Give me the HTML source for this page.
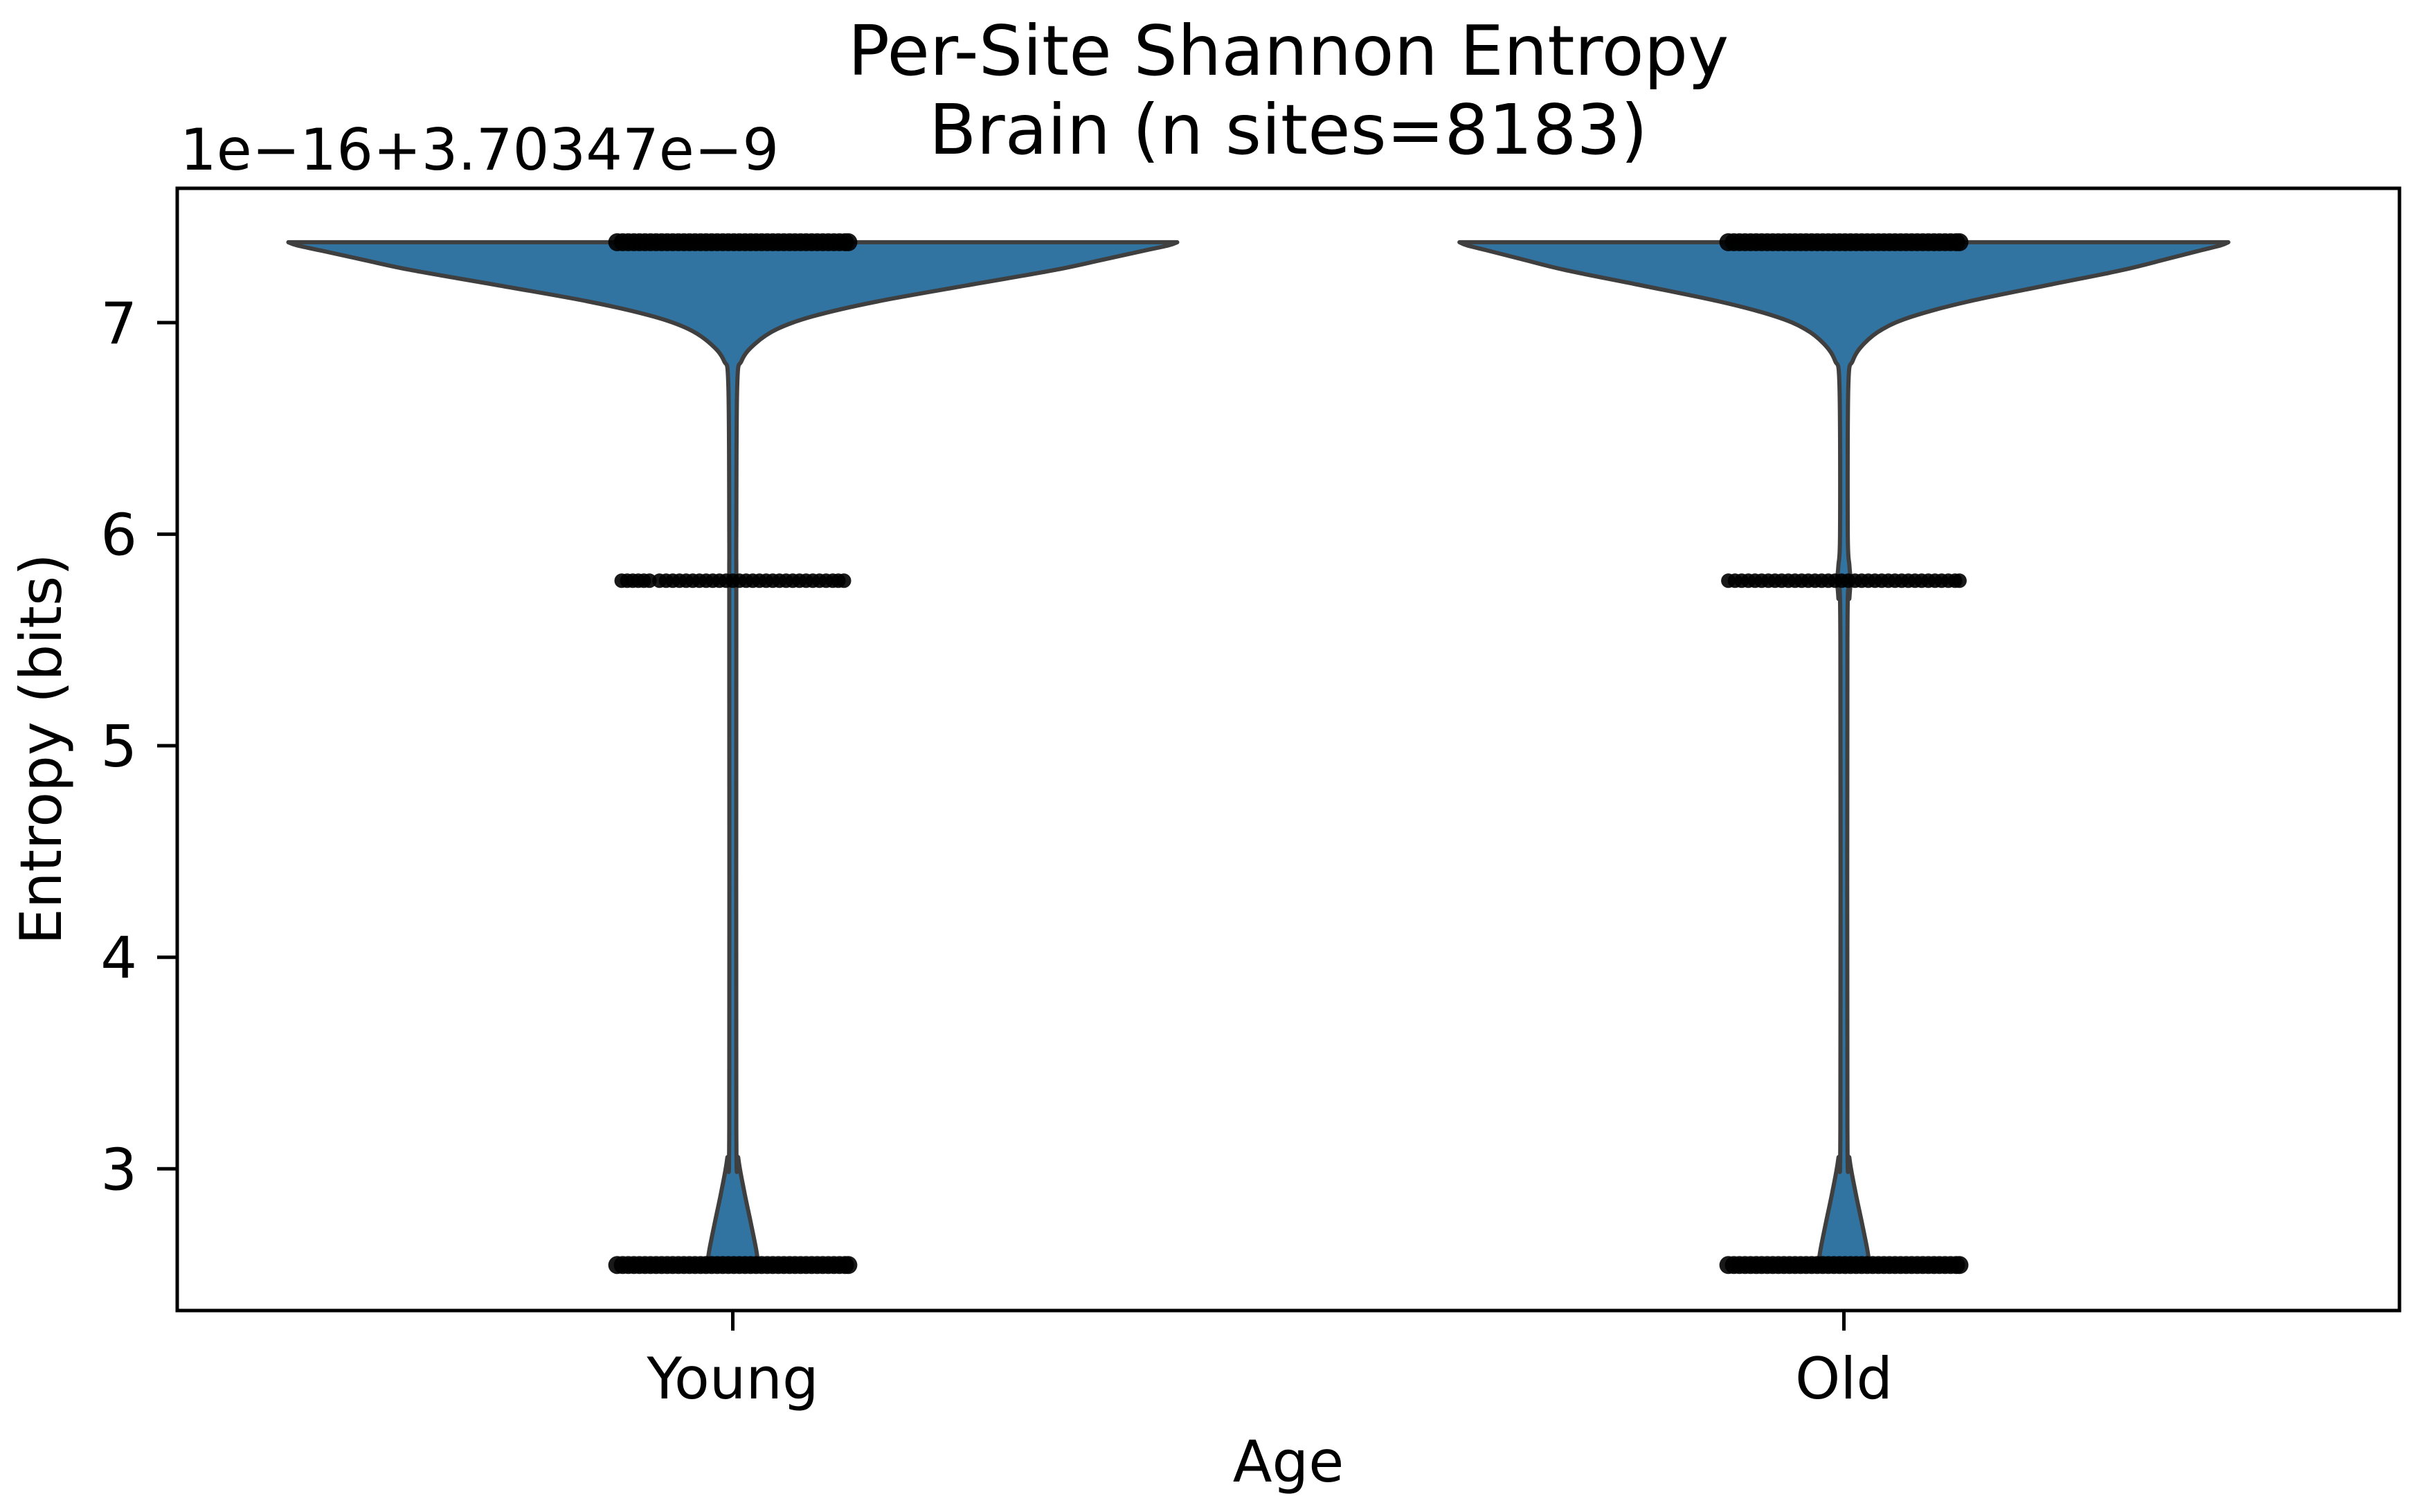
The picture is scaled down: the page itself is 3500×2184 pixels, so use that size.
<!DOCTYPE html>
<html><head><meta charset="utf-8"><style>
html,body{margin:0;padding:0;background:#fff}
svg{display:block}
text{font-family:"DejaVu Sans","Liberation Sans",sans-serif;fill:#000}
</style></head><body>
<svg id="chart" width="3500" height="2184" viewBox="0 0 3500 2184" xmlns="http://www.w3.org/2000/svg">
<rect x="0" y="0" width="3500" height="2184" fill="#fff"/>
<text x="1861" y="108" font-size="100" text-anchor="middle">Per-Site Shannon Entropy</text>
<text x="1861" y="222" font-size="100" text-anchor="middle">Brain (n sites=8183)</text>
<text x="260" y="245" font-size="83">1e−16+3.70347e−9</text>
<g id="plot"></g>
<g id="axes"></g>
<text x="1861" y="2140" font-size="83" text-anchor="middle">Age</text>
<text transform="translate(88,1082) rotate(-90)" font-size="83" text-anchor="middle">Entropy (bits)</text>
</svg>
<script>
const categories = ["Young", "Old"];
const yTicks = [3, 4, 5, 6, 7];
const kdeLevels = [7.38, 7.365, 7.34, 7.30, 7.25, 7.18, 7.10, 7.03, 6.97, 6.90, 6.82, 6.70, 6.0, 5.85, 5.78, 5.70, 5.5, 3.2, 3.05, 2.9, 2.75, 2.62, 2.545];
const youngHalfWidth = [0.400, 0.392, 0.370, 0.335, 0.291, 0.215, 0.130, 0.072, 0.040, 0.020, 0.008, 0.004, 0.0032, 0.0032, 0.0032, 0.0032, 0.0032, 0.0032, 0.005, 0.010, 0.016, 0.021, 0.023];
const oldHalfWidth   = [0.346, 0.339, 0.320, 0.290, 0.252, 0.186, 0.112, 0.062, 0.035, 0.018, 0.008, 0.004, 0.0035, 0.005, 0.006, 0.005, 0.0032, 0.0032, 0.005, 0.010, 0.016, 0.021, 0.023];
const stripLevels = [7.38, 5.78, 2.545];
const youngTopOffsets = [-0.104,-0.099,-0.094,-0.089,-0.084,-0.079,-0.074,-0.069,-0.064,-0.059,-0.054,-0.049,-0.044,-0.039,-0.034,-0.029,-0.024,-0.019,-0.014,-0.009,-0.004,0.001,0.006,0.011,0.016,0.021,0.026,0.031,0.036,0.041,0.046,0.051,0.056,0.061,0.066,0.071,0.076,0.081,0.086,0.091,0.096,0.101,0.104];
const youngMidOffsets = [-0.100,-0.095,-0.090,-0.085,-0.080,-0.075,-0.066,-0.060,-0.054,-0.048,-0.042,-0.036,-0.030,-0.024,-0.018,-0.012,-0.006,0.000,0.006,0.012,0.018,0.024,0.030,0.036,0.042,0.048,0.054,0.060,0.066,0.072,0.078,0.084,0.090,0.095,0.100];
const youngLowOffsets = [-0.104,-0.099,-0.094,-0.089,-0.084,-0.079,-0.074,-0.069,-0.064,-0.059,-0.054,-0.049,-0.044,-0.039,-0.034,-0.029,-0.024,-0.019,-0.014,-0.009,-0.004,0.001,0.006,0.011,0.016,0.021,0.026,0.031,0.036,0.041,0.046,0.051,0.056,0.061,0.066,0.071,0.076,0.081,0.086,0.091,0.096,0.101,0.104];
const oldTopOffsets = [-0.104,-0.099,-0.094,-0.089,-0.084,-0.079,-0.074,-0.069,-0.064,-0.059,-0.054,-0.049,-0.044,-0.039,-0.034,-0.029,-0.024,-0.019,-0.014,-0.009,-0.004,0.001,0.006,0.011,0.016,0.021,0.026,0.031,0.036,0.041,0.046,0.051,0.056,0.061,0.066,0.071,0.076,0.081,0.086,0.091,0.096,0.101,0.104];
const oldMidOffsets = [-0.104,-0.098,-0.092,-0.086,-0.080,-0.074,-0.068,-0.062,-0.056,-0.050,-0.044,-0.038,-0.032,-0.026,-0.020,-0.014,-0.008,-0.002,0.004,0.010,0.016,0.022,0.028,0.034,0.040,0.046,0.052,0.058,0.064,0.070,0.076,0.082,0.088,0.094,0.100,0.104];
const oldLowOffsets = [-0.104,-0.099,-0.094,-0.089,-0.084,-0.079,-0.074,-0.069,-0.064,-0.059,-0.054,-0.049,-0.044,-0.039,-0.034,-0.029,-0.024,-0.019,-0.014,-0.009,-0.004,0.001,0.006,0.011,0.016,0.021,0.026,0.031,0.036,0.041,0.046,0.051,0.056,0.061,0.066,0.071,0.076,0.081,0.086,0.091,0.096,0.101,0.104];

const NS = "http://www.w3.org/2000/svg";
const AX = {l:256, r:3466, t:272, b:1893};
const xMin = -0.5, xMax = 1.5, yMin = 2.33, yMax = 7.635;
function xs(v){ return AX.l + (v - xMin) / (xMax - xMin) * (AX.r - AX.l); }
function ys(v){ return AX.b - (v - yMin) / (yMax - yMin) * (AX.b - AX.t); }
function mk(tag, attrs, parent){ const e = document.createElementNS(NS, tag); for (const k in attrs) e.setAttribute(k, attrs[k]); parent.appendChild(e); return e; }
function smooth(pts){
  let d = 'M' + pts[0][0].toFixed(1) + ',' + pts[0][1].toFixed(1);
  for (let i = 0; i < pts.length - 1; i++) {
    const p0 = pts[Math.max(0, i-1)], p1 = pts[i], p2 = pts[i+1], p3 = pts[Math.min(pts.length-1, i+2)];
    const c1x = p1[0] + (p2[0]-p0[0])/6, c1y = p1[1] + (p2[1]-p0[1])/6;
    const c2x = p2[0] - (p3[0]-p1[0])/6, c2y = p2[1] - (p3[1]-p1[1])/6;
    d += ' C' + c1x.toFixed(1) + ',' + c1y.toFixed(1) + ' ' + c2x.toFixed(1) + ',' + c2y.toFixed(1) + ' ' + p2[0].toFixed(1) + ',' + p2[1].toFixed(1);
  }
  return d;
}
const plot = document.getElementById('plot');
const axes = document.getElementById('axes');

const widths = [youngHalfWidth, oldHalfWidth];
categories.forEach((c, i) => {
  const hw = widths[i];
  const right = [], left = [];
  for (let k = 0; k < kdeLevels.length; k++) {
    right.push([xs(i + hw[k]), ys(kdeLevels[k])]);
    left.unshift([xs(i - hw[k]), ys(kdeLevels[k])]);
  }
  let d = smooth(right);
  d += ' L' + left[0][0].toFixed(1) + ',' + left[0][1].toFixed(1);
  d += ' ' + smooth(left).replace(/^M[^ ]+/, '');
  d += ' Z';
  const p = mk('path', {d: d, fill:'#3274a1', stroke:'#3f3f3f', 'stroke-width':6, 'stroke-linejoin':'round'}, plot);
  
  
});

const stripSets = [[youngTopOffsets, youngMidOffsets, youngLowOffsets], [oldTopOffsets, oldMidOffsets, oldLowOffsets]];
const stripRadius = [13, 10.5, 13];
categories.forEach((c, i) => {
  const g = mk('g', {}, plot);
  
  
  stripSets[i].forEach((offs, li) => {
    offs.forEach(o => {
      const d = mk('circle', {cx: xs(i + o).toFixed(1), cy: ys(stripLevels[li]).toFixed(1), r: stripRadius[li], fill:'#000', 'fill-opacity':0.9}, g);
      
      
    });
  });
});

const frame = mk('rect', {x:AX.l, y:AX.t, width:AX.r-AX.l, height:AX.b-AX.t, fill:'none', stroke:'#000', 'stroke-width':5}, axes);



yTicks.forEach(t => {
  const y = ys(t);
  const tk = mk('line', {x1:AX.l-29, x2:AX.l, y1:y, y2:y, stroke:'#000', 'stroke-width':5}, axes);
  
  
  const lb = mk('text', {x:AX.l-58, y:y+30, 'font-size':83, 'text-anchor':'end'}, axes);
  lb.textContent = String(t);
  
  
});
categories.forEach((c, i) => {
  const x = xs(i);
  const tk = mk('line', {x1:x, x2:x, y1:AX.b, y2:AX.b+29, stroke:'#000', 'stroke-width':5}, axes);
  
  
  const lb = mk('text', {x:x, y:2020, 'font-size':83, 'text-anchor':'middle'}, axes);
  lb.textContent = c;
  
  
});
</script>
</body></html>
